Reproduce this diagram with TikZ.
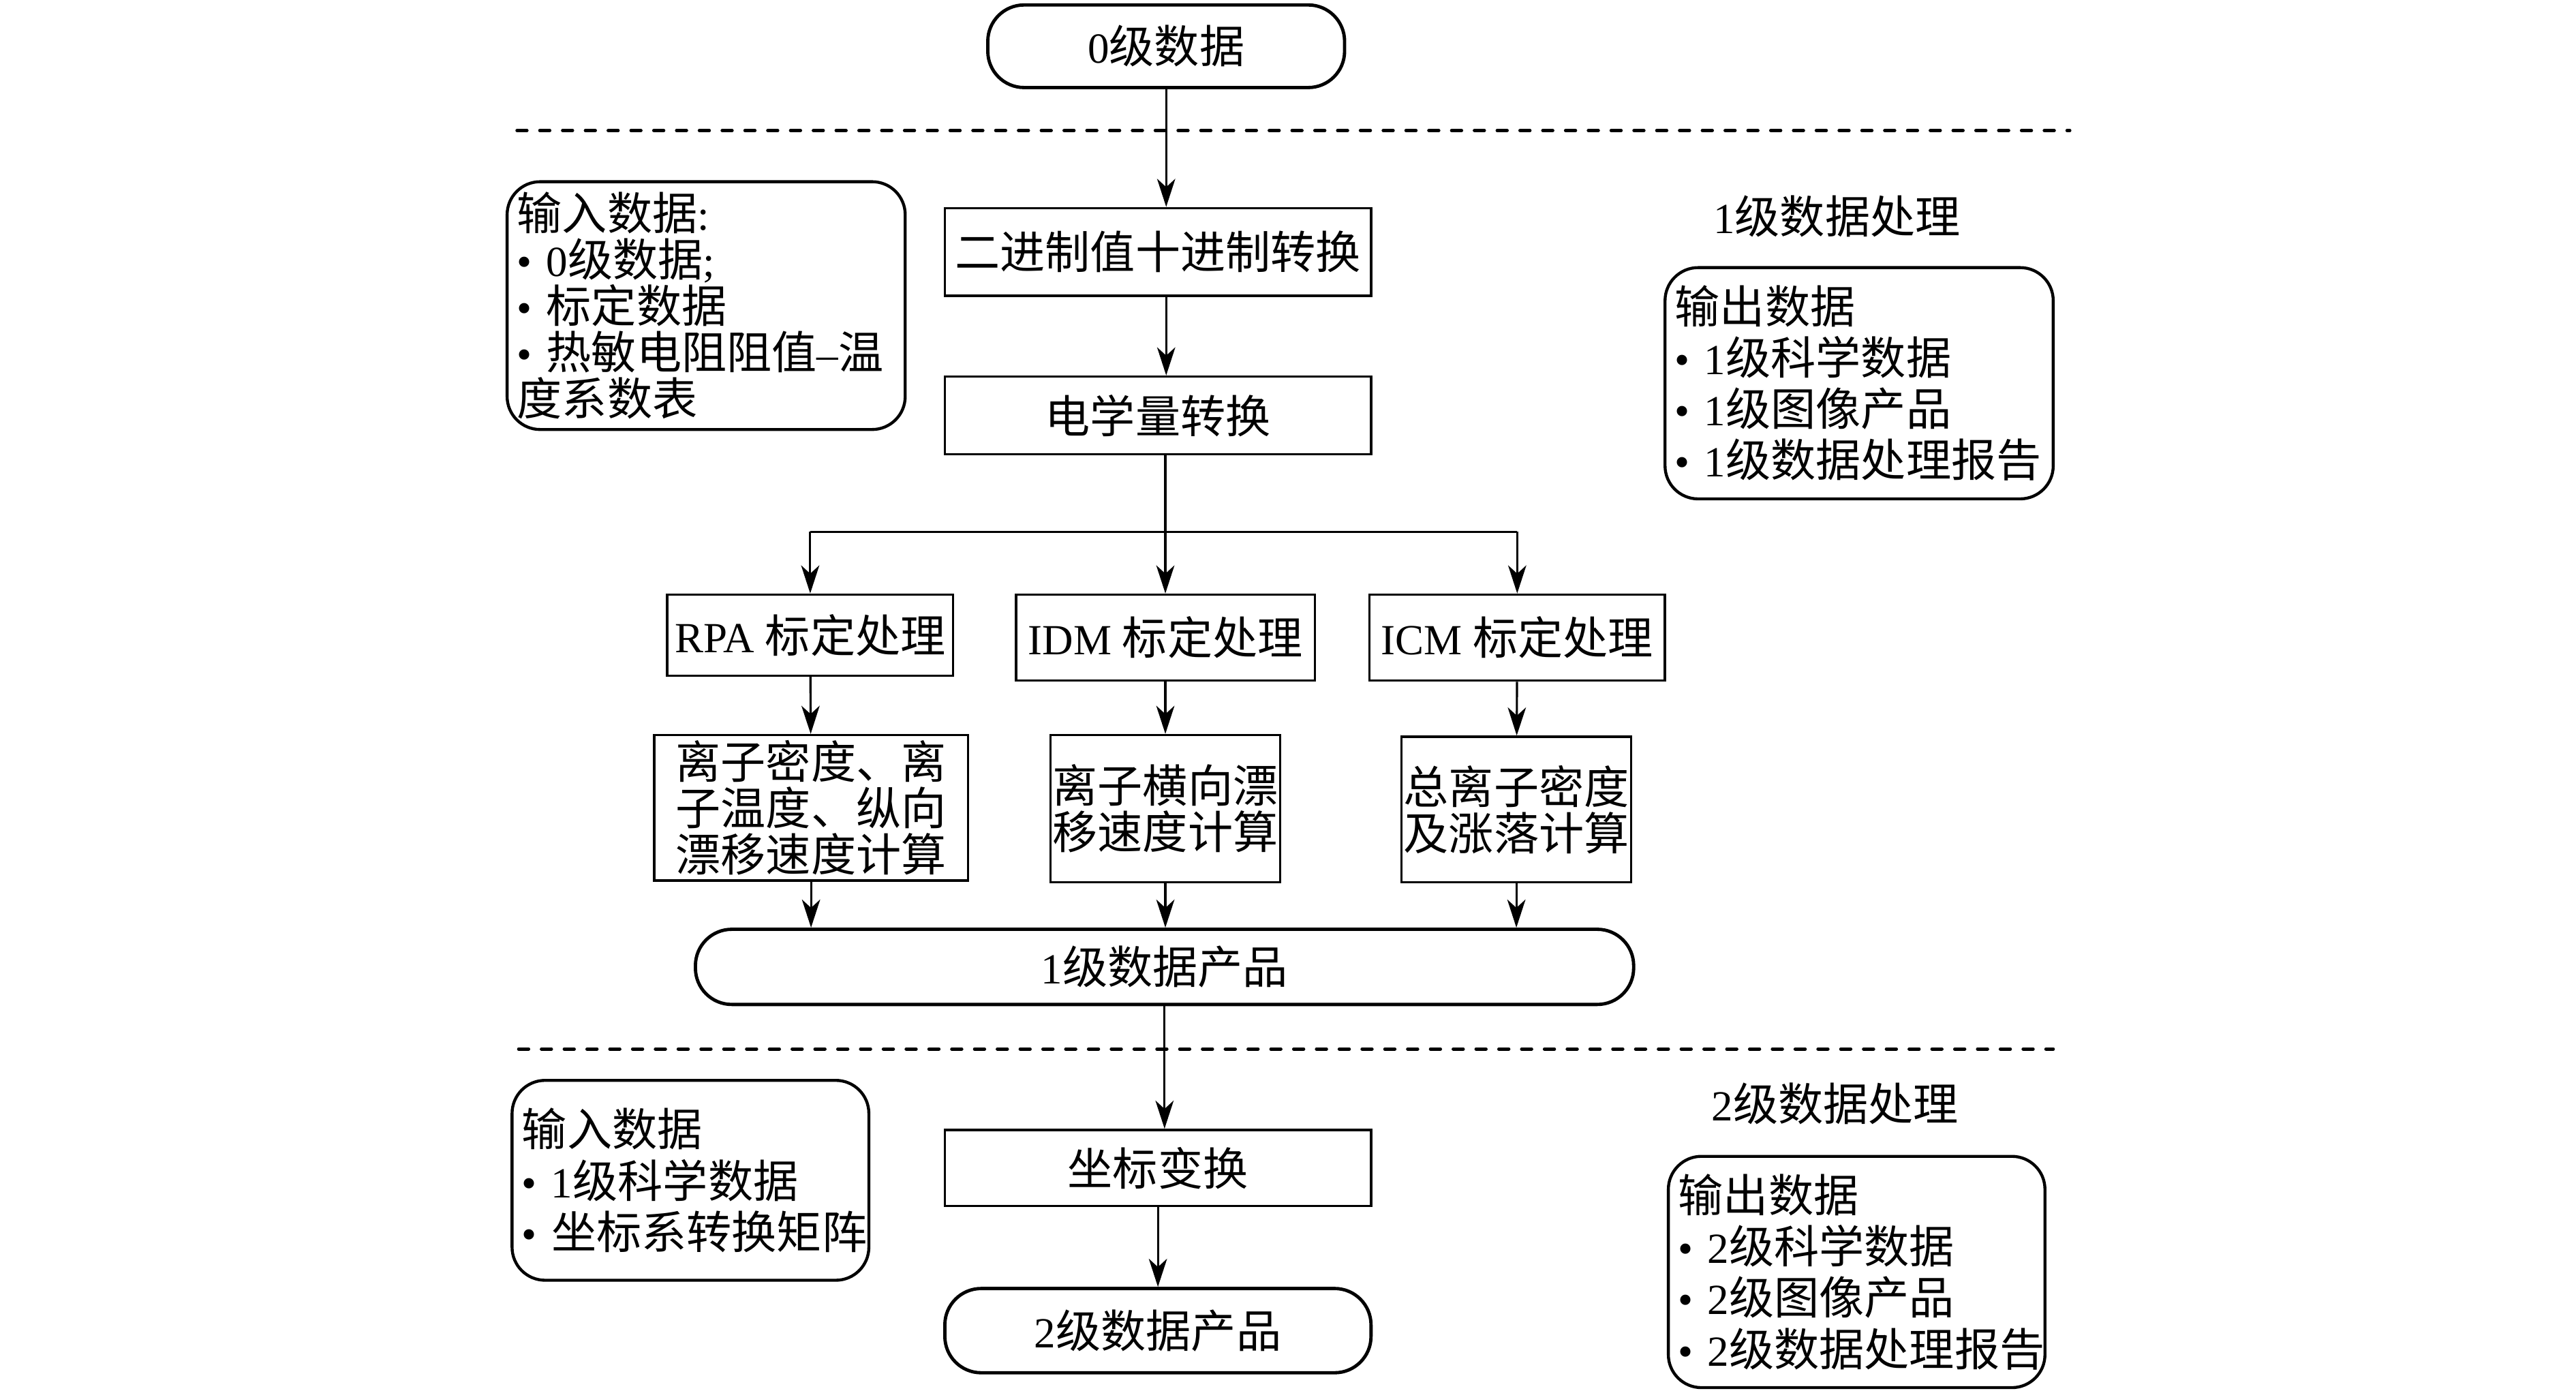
\documentclass[tikz,border=0pt]{standalone}
\usepackage{fontspec}
\setmainfont{Liberation Serif}
\newfontfamily\cjk[Scale=1.05]{Noto Sans CJK SC}
% Chinese characters switch to the CJK family
\XeTeXinterchartokenstate=1
\newXeTeXintercharclass\zhcls
\newcount\zhc
\def\zhrange#1#2{\zhc=#1\relax\loop\XeTeXcharclass\zhc=\zhcls\advance\zhc by 1\relax\ifnum\zhc<#2\repeat}
\zhrange{"3000}{"3040}
\zhrange{"4E00}{"A000}
\zhrange{"FF00}{"FFF0}
\XeTeXinterchartoks 0 \zhcls = {\begingroup\cjk}
\XeTeXinterchartoks 4095 \zhcls = {\begingroup\cjk}
\XeTeXinterchartoks \zhcls 0 = {\endgroup}
\XeTeXinterchartoks \zhcls 4095 = {\endgroup}
\usepackage{tikz}
\usetikzlibrary{positioning, arrows.meta, calc}

\begin{document}
\begin{tikzpicture}[x=1pt, y=-1pt,
    font=\fontsize{26}{28}\selectfont,
    procbox/.style={draw, line width=1.5pt, inner sep=0pt},
    termbox/.style={draw, line width=2pt, rounded corners=22pt, inner sep=0pt},
    notebox/.style={draw, line width=1.8pt, rounded corners=20pt, align=left, inner xsep=6pt, inner ysep=0pt},
    arr/.style={-{Stealth[length=17pt, width=11pt, inset=5pt]}, line width=1.3pt},
    sep/.style={line width=2pt, dash pattern=on 6pt off 7.8pt, line cap=round}]
  \useasboundingbox (0,0) rectangle (1559.5,842);

  % Nodes
  \node[termbox, minimum width=216, minimum height=50] (zero) at (706,28) {0级数据};
  \node[procbox, minimum width=258, minimum height=53] (bin) at (701,152.5) {二进制值十进制转换};
  \node[procbox, minimum width=258, minimum height=47] (elec) at (701,251.5) {电学量转换};
  \node[procbox, minimum width=173, minimum height=49] (rpa) at (490.5,384.5) {RPA 标定处理};
  \node[procbox, minimum width=181, minimum height=52] (idm) at (705.5,386) {IDM 标定处理};
  \node[procbox, minimum width=179, minimum height=52] (icm) at (918.5,386) {ICM 标定处理};
  \node[procbox, minimum width=190, minimum height=88, align=center] (calcrpa) at (491,489) {离子密度、离\\子温度、纵向\\漂移速度计算};
  \node[procbox, minimum width=139, minimum height=89, align=center] (calcidm) at (705.5,489.5) {离子横向漂\\移速度计算};
  \node[procbox, minimum width=139, minimum height=88, align=center] (calcicm) at (918,490) {总离子密度\\及涨落计算};
  \node[termbox, minimum width=568, minimum height=45.5] (one) at (705,585.3) {1级数据产品};
  \node[procbox, minimum width=258, minimum height=46] (coord) at (701,707) {坐标变换};
  \node[termbox, minimum width=258, minimum height=51] (two) at (701,805.5) {2级数据产品};

  % Notes
  \node[notebox, text width=229, minimum height=150] (in1) at (427.5,185) {输入数据:\\•~0级数据;\\•~标定数据\\•~热敏电阻阻值–温\\度系数表};
  \node[notebox, text width=223, minimum height=140, font=\fontsize{26}{31}\selectfont] (out1) at (1125.5,232) {输出数据\\•~1级科学数据\\•~1级图像产品\\•~1级数据处理报告};
  \node[notebox, text width=204, minimum height=121, font=\fontsize{26}{31}\selectfont] (in2) at (418,714.5) {输入数据\\•~1级科学数据\\•~坐标系转换矩阵};
  \node[notebox, text width=216, minimum height=140, font=\fontsize{26}{31}\selectfont] (out2) at (1124,770) {输出数据\\•~2级科学数据\\•~2级图像产品\\•~2级数据处理报告};
  \node (lab1) at (1112,131) {1级数据处理};
  \node (lab2) at (1111,668) {2级数据处理};

  % Level borders
  \draw[sep] (313,79) -- (1253,79);
  \draw[sep] (314,635) -- (1243,635);

  % Arrows
  \draw[arr] (zero) -- (zero |- bin.north);
  \draw[arr] (bin.south -| zero) -- (elec.north -| zero);
  \coordinate (split) at (705.5,322);
  \draw[line width=1.3pt] (elec.south -| split) -- (split);
  \draw[line width=1.3pt] (split -| rpa) -- (split -| icm);
  \foreach \n in {rpa,idm,icm} {
    \draw[arr] (split -| \n) -- (\n.north);
    \draw[arr] (\n) -- (calc\n);
    \draw[arr] (calc\n) -- (calc\n |- one.north);
  }
  \draw[arr] (one) -- (one |- coord.north);
  \draw[arr] (coord) -- (two);
\end{tikzpicture}
\end{document}
